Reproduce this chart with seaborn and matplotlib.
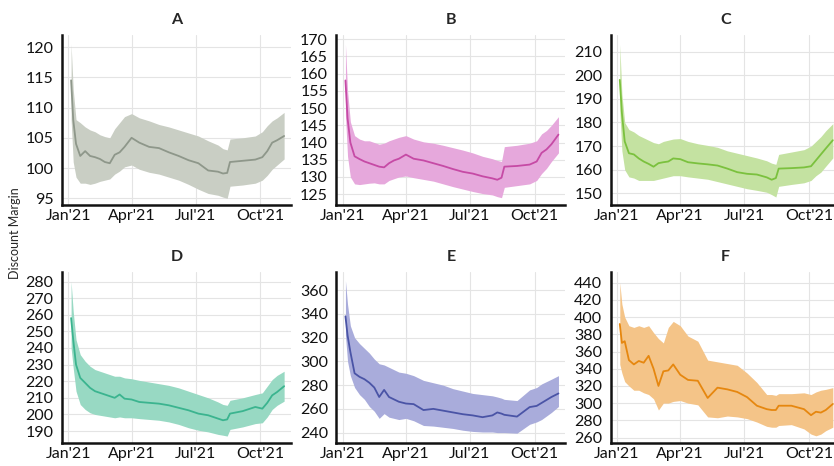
import seaborn as sns
import matplotlib
matplotlib.use("Agg")
import matplotlib.pyplot as plt
import matplotlib.dates as mdates
import pandas as pd

# dates sampled along the series
dates = ["2021-01-05", "2021-01-08", "2021-01-12", "2021-01-18", "2021-01-25",
         "2021-02-01", "2021-02-08", "2021-02-15", "2021-02-22", "2021-03-01",
         "2021-03-08", "2021-03-15", "2021-03-22", "2021-04-01", "2021-04-12",
         "2021-04-26", "2021-05-10", "2021-05-24", "2021-06-07", "2021-06-21",
         "2021-07-05", "2021-07-19", "2021-08-02", "2021-08-09", "2021-08-15",
         "2021-08-19", "2021-09-06", "2021-09-24", "2021-10-04", "2021-10-11",
         "2021-10-18", "2021-10-25", "2021-11-04"]

panels = ["A", "B", "C", "D", "E", "F"]

a_mid = [114.5, 108, 104, 102, 102.8, 102, 101.8, 101.5, 101, 100.8, 102.2, 102.6, 103.5, 105, 104.2, 103.5, 103.3,
         102.6, 102, 101.3, 100.8, 99.6, 99.4, 99.1, 99.2, 101, 101.2, 101.4, 101.8, 102.8, 104.2, 104.6, 105.3]
a_hi = [120.5, 113, 108, 107.5, 106.8, 106.3, 106, 105.5, 105.2, 105, 106.5, 107.5, 108.5, 109, 108.3, 107.8, 107.2,
        106.8, 106.3, 105.8, 105.3, 104.5, 103.8, 103.2, 103, 104.8, 105, 105.3, 106, 107, 107.8, 108.3, 109.2]
a_lo = [108, 101, 98.5, 97.5, 97.5, 97.3, 97.5, 97.8, 98, 98.2, 99, 99.5, 100.2, 100.5, 99.8, 99.3, 99,
        98.5, 98, 97.3, 96.5, 95.8, 95.5, 95.2, 95, 97, 97.2, 97.5, 98, 98.8, 99.8, 100.5, 101.5]

b_mid = [158, 147, 140, 136, 135.2, 134.5, 134, 133.5, 133, 132.8, 134, 134.8, 135.3, 136.5, 135.3, 134.8, 134,
         133.2, 132.3, 131.5, 131, 130.2, 129.6, 129.2, 129.8, 133, 133.2, 133.6, 134.5, 137, 138, 139.5, 142.3]
b_hi = [168.5, 155, 146, 142, 141, 140.5, 140.5, 140, 139.5, 139.8, 140.5, 141, 141.5, 142, 141, 140.2, 139.8,
        139.2, 138.5, 137.8, 137, 136, 135.3, 134.8, 134.5, 138.8, 139.2, 139.8, 140.5, 142.5, 143.5, 145, 147.5]
b_lo = [148, 136, 130, 128, 127.8, 128, 128.2, 128.3, 128, 128, 129, 129.5, 130, 130.3, 129.8, 129.3, 128.8,
        128, 127.2, 126.5, 125.8, 125.2, 124.8, 124.3, 124, 127, 127.5, 128, 129, 131, 132.5, 134.5, 137]

c_mid = [198, 184, 172, 167, 166.5, 164.8, 163.5, 162.5, 161.3, 162.8, 163.2, 163.5, 164.8, 164.5, 163.2, 162.7, 162.3,
         161.8, 160.5, 159, 158.3, 158, 156.8, 155.8, 156.5, 160.5, 160.7, 161, 161.5, 164, 166.5, 169, 172.5]
c_hi = [213, 192, 180, 177, 176, 174.5, 173.5, 172.5, 171.5, 171, 172, 172.5, 173, 173.2, 172, 171, 170.3,
        169.5, 168, 167, 166, 165, 163.8, 162.8, 162.3, 166.5, 167.5, 168.5, 170, 172, 174, 176.5, 179.5]
c_lo = [185, 168, 160, 157, 156.5, 155.5, 155.5, 155.5, 155.5, 156, 156.5, 157, 157.5, 157.5, 157, 156.5, 156,
        155, 154, 153, 152, 151.3, 150.5, 149.5, 148.5, 153, 153.8, 154.5, 155.5, 157.5, 159, 161.5, 165]

d_mid = [258, 245, 230, 222, 219, 216, 214, 213, 212, 211, 210, 212, 209.5, 209, 207.5, 207, 206.5,
         205.5, 204, 202.5, 200.5, 199.5, 197.5, 196.5, 197, 200.5, 202, 204.5, 203.5, 207, 211.5, 213.5, 217]
d_hi = [280, 262, 245, 236, 232, 229, 227, 226, 225, 224, 223, 223, 222, 221.5, 220.5, 219.5, 218.5,
        217.5, 216, 214, 212, 210, 207.5, 206, 205.5, 208.5, 210, 212, 213, 217, 221, 223.5, 226]
d_lo = [240, 228, 214, 206, 203, 201, 200, 199.5, 199, 198.5, 198, 198.5, 198, 198, 197.5, 197, 196.5,
        195.5, 194, 192, 190.5, 189.5, 188, 187.5, 187, 191, 192.5, 194.5, 195, 198.5, 203, 205.5, 208]

e_mid = [338, 322, 308, 290, 287, 285, 282, 278, 270, 276, 270, 268, 266, 264.5, 264, 259, 260,
         258.5, 257, 255.5, 254.5, 253, 254.5, 257, 256, 255, 253.5, 261.5, 262.5, 265, 267.5, 270, 273]
e_hi = [368, 348, 330, 320, 315, 311, 307, 302, 298, 297, 295, 293, 291, 290, 288, 284, 282,
        280, 277, 275, 273, 272, 271, 270, 269, 268, 267, 276, 278, 281, 283, 285, 288]
e_lo = [322, 300, 288, 278, 272, 268, 262, 258, 252, 256, 253, 252, 251, 252, 250, 246, 245.5,
        244.5, 243.5, 242, 241, 240.5, 240.5, 240, 240, 240, 239.5, 247, 249, 251, 254, 257, 262]

f_mid = [392, 370, 372, 350, 345, 349, 347, 355, 340, 320, 337, 338, 345, 333, 327, 326, 306,
         318, 316, 313, 307, 297, 293, 292, 292, 297, 297, 293, 286, 290, 289, 292, 299]
f_hi = [440, 415, 400, 390, 388, 390, 388, 390, 382, 375, 370, 388, 395, 390, 378, 372, 350,
        348, 346, 344, 335, 324, 310, 310, 309, 311, 311, 312, 310, 313, 315, 316, 318]
f_lo = [345, 335, 325, 320, 315, 315, 312, 310, 305, 292, 300, 300, 302, 303, 300, 298, 284,
        283, 285, 284, 282, 278, 273, 272, 272, 274, 275, 270, 264, 262, 264, 268, 272]

mids = [a_mid, b_mid, c_mid, d_mid, e_mid, f_mid]
his = [a_hi, b_hi, c_hi, d_hi, e_hi, f_hi]
los = [a_lo, b_lo, c_lo, d_lo, e_lo, f_lo]

line_colors = ["#8e978a", "#c64aa5", "#7bc13e", "#3bb48f", "#4a54a6", "#e6870f"]
band_colors = ["#c9cec4", "#e6a8dc", "#c4e2a1", "#98d9c3", "#a9acdb", "#f4c488"]
ylims = [(93.85, 122), (121.8, 171.2), (145, 217), (183, 285.5), (231.5, 375), (254, 452)]
ysteps = [5, 5, 10, 10, 20, 20]

sns.set_theme(style="whitegrid")
plt.rcParams["font.family"] = ["Lato", "DejaVu Sans"]

fig, axes = plt.subplots(2, 3, figsize=(8.34, 4.66), dpi=100)
fig.subplots_adjust(left=0.0743, right=1.007, top=0.925, bottom=0.05,
                    wspace=0.197, hspace=0.394)

x = pd.to_datetime(dates)
for i, ax in enumerate(axes.flat):
    df = pd.DataFrame({"date": x, "mid": mids[i], "lo": los[i], "hi": his[i]})
    ax.fill_between(df["date"], df["lo"], df["hi"], color=band_colors[i], lw=0)
    sns.lineplot(data=df, x="date", y="mid", ax=ax, color=line_colors[i], lw=1.3)
    ax.set_title(panels[i], fontsize=11.5, fontweight="bold", pad=8)
    ax.set_xlabel("")
    ax.set_ylabel("")
    ax.set_xlim(pd.Timestamp("2020-12-23"), pd.Timestamp("2021-11-14"))
    ax.set_ylim(*ylims[i])
    ax.xaxis.set_major_locator(mdates.MonthLocator(bymonth=[1, 4, 7, 10]))
    ax.xaxis.set_major_formatter(mdates.DateFormatter("%b'%y"))
    ax.yaxis.set_major_locator(matplotlib.ticker.MultipleLocator(ysteps[i]))
    ax.tick_params(length=0, labelsize=11.5, colors="#111111")
    ax.tick_params(axis="x", pad=3)
    ax.tick_params(axis="y", pad=6)
    ax.grid(color="#e4e4e4", lw=0.8)
    sns.despine(ax=ax)
    for s in ["left", "bottom"]:
        ax.spines[s].set_color("#111111")
        ax.spines[s].set_linewidth(1.8)

fig.text(0.018, 0.5, "Discount Margin", rotation=90, va="center", ha="center", fontsize=9)

fig.savefig("out.png", dpi=100)
